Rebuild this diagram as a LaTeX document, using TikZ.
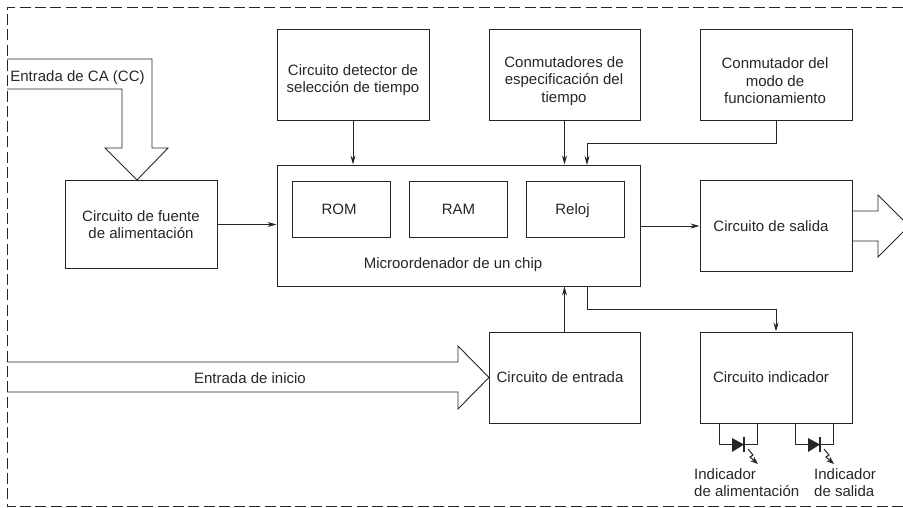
\documentclass[tikz,border=0pt]{standalone}
\usepackage{fontspec}
\setmainfont{Liberation Sans}
\usetikzlibrary{arrows.meta}

\tikzset{
    blockbox/.style = {draw, line width = 1, inner sep = 0, align = center, font = \fontsize{15}{17.5}\selectfont},
    plainlabel/.style = {inner sep = 0, align = center, font = \fontsize{15}{17.5}\selectfont},
    wire/.style = {line width = 0.9, -{Stealth[length = 9, width = 5]}},
    plainwire/.style = {line width = 0.9},
    bigarrow/.style = {line width = 0.9, line join = miter},
    frameline/.style = {line width = 0.9, dash pattern = on 11 off 4.3}
}

\begin{document}
\begin{tikzpicture}[x = 1pt, y = -1pt, color = black!85, text = black!85]
    \useasboundingbox (0,0) rectangle (903,507);
    \clip (0,0) rectangle (903,507);

    \draw [frameline] (903,506) -- (7,506) -- (7,7) -- (903,7);

    \node [blockbox, minimum width = 152, minimum height = 88] (fuente) at (141,224.5) {Circuito de fuente\\de alimentaci\'on};
    \node [blockbox, minimum width = 152, minimum height = 91] (detector) at (353,74.5) {};
    \node [blockbox, minimum width = 151, minimum height = 91] (conmutadores) at (564.5,74.5) {};
    \node [blockbox, minimum width = 152, minimum height = 91] (modo) at (776,74.5) {};
    \node [blockbox, minimum width = 363, minimum height = 121] (micro) at (458.5,225.5) {};
    \node [blockbox, minimum width = 98, minimum height = 56] (rom) at (341,209) {\hspace*{-4pt}ROM};
    \node [blockbox, minimum width = 98, minimum height = 56] (ram) at (458.5,209) {RAM};
    \node [blockbox, minimum width = 98, minimum height = 56, text depth = 0] (reloj) at (575.5,209) {\hspace*{-6pt}Reloj};
    \node [blockbox, minimum width = 152, minimum height = 91] (salida) at (776,226) {\hspace*{-10pt}Circuito de salida};
    \node [blockbox, minimum width = 151, minimum height = 91] (entrada) at (564.5,377.5) {\hspace*{-9pt}Circuito de entrada};
    \node [blockbox, minimum width = 152, minimum height = 91] (indicador) at (776,377.5) {\hspace*{-10pt}Circuito indicador};

    \node [plainlabel] (detectortxt) at (353,80) {Circuito detector de\\selecci\'on de tiempo};
    \node [plainlabel] (conmutadorestxt) at (564,81) {Conmutadores de\\especificaci\'on del\\tiempo};
    \node [plainlabel] (modotxt) at (775,81) {Conmutador del\\modo de\\funcionamiento};
    \node [plainlabel] (chip) at (453,265) {Microordenador de un chip};
    \node [plainlabel] (entradaca) at (77.5,78) {Entrada de CA (CC)};
    \node [plainlabel] (inicio) at (250,378) {Entrada de inicio};
    \node [plainlabel, align = left, anchor = north west] (ledpower) at (694,468) {Indicador\\de alimentaci\'on};
    \node [plainlabel, align = left, anchor = north west] (ledout) at (814,468) {Indicador\\de salida};

    \coordinate (modoin) at (587,165);
    \coordinate (indout) at (587,286);

    \draw [wire] (detector.south) -- (detector.south |- micro.north);
    \draw [wire] (conmutadores.south) -- (conmutadores.south |- micro.north);
    \draw [wire] (modo.south) -- ++(0,23) -| (modoin);
    \draw [wire] (fuente.east) -- (fuente.east -| micro.west);
    \draw [wire] (salida.west -| micro.east) -- (salida.west);
    \draw [wire] (entrada.north) -- (entrada.north |- micro.south);
    \draw [wire] (indout) -- ++(0,23) -| (indicador.north);

    \draw [bigarrow] (7,59) -- (152,59) -- (152,148) -- (168,148) -- (137,180) -- (105,148) -- (122,148) -- (122,89) -- (7,89);
    \draw [bigarrow] (7,362) -- (458,362) -- (458,346) -- (489,377.5) -- (458,409) -- (458,392) -- (7,392);
    \draw [bigarrow] (852,211) -- (878,211) -- (878,195) -- (909,226) -- (878,257) -- (878,241) -- (852,241);

    \foreach \ledx in {719,795} {
        \draw [plainwire] (\ledx,423) -- (\ledx,444.5) -- (\ledx+38,444.5) -- (\ledx+38,423);
        \fill (\ledx+13,438) -- (\ledx+25,444.5) -- (\ledx+13,452) -- cycle;
        \draw [line width = 1.2] (\ledx+25,437) -- (\ledx+25,452);
        \draw [line width = 1, -{Stealth[length = 8, width = 6]}] (\ledx+29,449) -- (\ledx+34,455) -- (\ledx+31,457) -- (\ledx+39,464);
    }
\end{tikzpicture}
\end{document}
